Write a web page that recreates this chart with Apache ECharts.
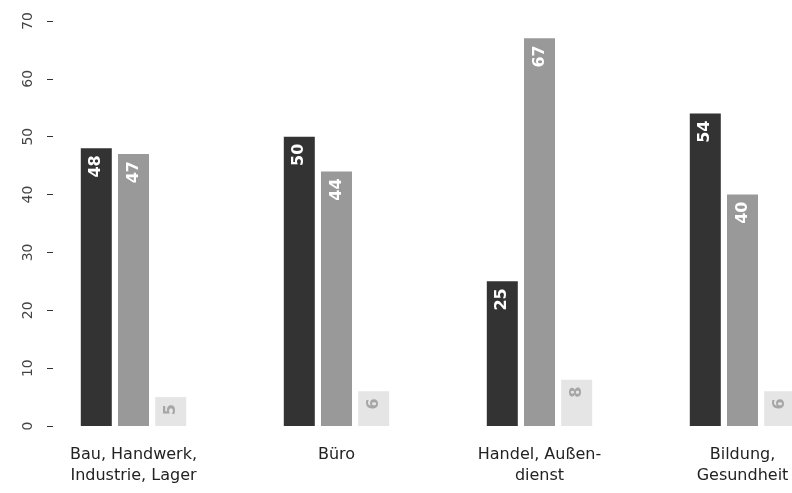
<!DOCTYPE html>
<html>
<head>
<meta charset="utf-8">
<script src="https://cdn.jsdelivr.net/npm/echarts@6/dist/echarts.min.js"></script>
<style>
  html, body { margin: 0; padding: 0; background: #fff; }
  #chart { width: 792px; height: 493px; }
</style>
</head>
<body>
<div id="chart"></div>
<script>
// Branchen (categories)
const categories = [
  'Bau, Handwerk,\nIndustrie, Lager',
  'Büro',
  'Handel, Außen-\ndienst',
  'Bildung,\nGesundheit'
];
// Three answer groups per branch, in percent
const seriesDark = [48, 50, 25, 54];
const seriesMid = [47, 44, 67, 40];
const seriesLight = [5, 6, 8, 6];

const yTicks = { min: 0, max: 70, interval: 10 };

const FONT = '"DejaVu Sans", "Open Sans", sans-serif';

function barLabel(color) {
  return {
    show: true,
    position: 'insideTop',
    distance: 7,
    rotate: 90,
    align: 'right',
    verticalAlign: 'middle',
    color: color,
    fontFamily: FONT,
    fontWeight: 'bold',
    fontSize: 16
  };
}

function makeSeries(data, fill, labelColor) {
  return {
    type: 'bar',
    data: data,
    barWidth: 31,
    barGap: '20%',
    itemStyle: { color: fill },
    label: barLabel(labelColor),
    silent: true
  };
}

const chart = echarts.init(document.getElementById('chart'), null, { renderer: 'canvas' });
chart.setOption({
  animation: false,
  // plot area runs past the right edge, so the last group is partly cut off
  grid: {
    left: 32, width: 812, top: 21, bottom: 67,
    containLabel: false,
    outerBoundsMode: 'none'
  },
  xAxis: {
    type: 'category',
    data: categories,
    axisLine: { show: false },
    axisTick: { show: false },
    axisLabel: {
      interval: 0,
      margin: 18,
      color: '#222',
      fontFamily: FONT,
      fontSize: 16,
      lineHeight: 21
    }
  },
  yAxis: {
    type: 'value',
    min: yTicks.min,
    max: yTicks.max,
    interval: yTicks.interval,
    offset: -21,
    axisLine: { show: false },
    axisTick: { show: true, length: 6, lineStyle: { color: '#333', width: 1 } },
    splitLine: { show: false },
    axisLabel: {
      rotate: 90,
      margin: 18,
      color: '#444',
      fontFamily: FONT,
      fontSize: 14
    }
  },
  series: [
    makeSeries(seriesDark, '#333333', '#ffffff'),
    makeSeries(seriesMid, '#999999', '#ffffff'),
    makeSeries(seriesLight, '#e5e5e5', '#a6a6a6')
  ]
});
</script>
</body>
</html>
